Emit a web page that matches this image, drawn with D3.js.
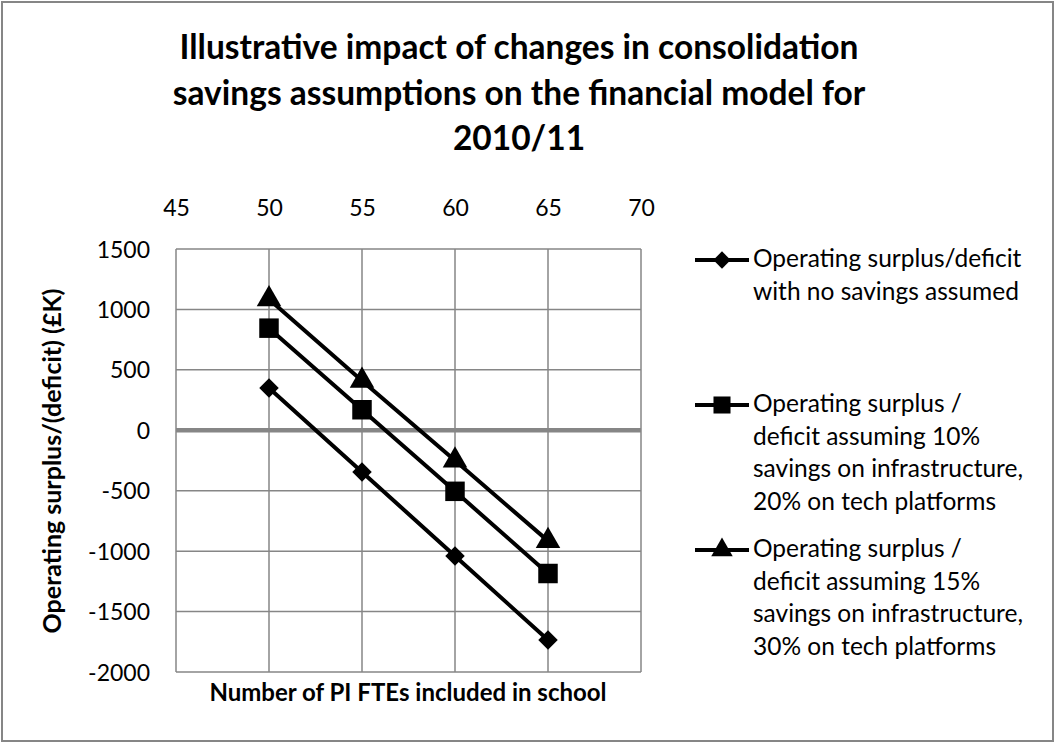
<!DOCTYPE html>
<html>
<head>
<meta charset="utf-8">
<script src="https://cdn.jsdelivr.net/npm/d3@7"></script>
<style>
  body { margin: 0; background: #fff; }
  text { font-family: Lato, "Open Sans", sans-serif; fill: #000; }
</style>
</head>
<body>
<script>
/* Data */
const fteCounts = [50, 55, 60, 65];
const noSavings = [350, -345, -1040, -1735];
const savings10 = [845, 170, -505, -1185];
const savings15 = [1085, 410, -250, -915];
const xTicks = [45, 50, 55, 60, 65, 70];
const yTicks = [1500, 1000, 500, 0, -500, -1000, -1500, -2000];
const titleLines = ["Illustrative impact of changes in consolidation",
  "savings assumptions on the financial model for", "2010/11"];
const seriesNames = [
  ["Operating surplus/deficit", "with no savings assumed"],
  ["Operating surplus /", "deficit assuming 10%", "savings on infrastructure,", "20% on tech platforms"],
  ["Operating surplus /", "deficit assuming 15%", "savings on infrastructure,", "30% on tech platforms"]
];

/* Main */
let main = () => {
  const w = 1056, h = 742;
  const plot = { left: 176, right: 641, top: 249, bottom: 672 };

  const svg = d3.select("body").append("svg")
    .attr("width", w)
    .attr("height", h);

  // outer border
  svg.append("rect")
    .attr("x", 2).attr("y", 2)
    .attr("width", 1051).attr("height", 739)
    .attr("fill", "#fff")
    .attr("stroke", "#868686")
    .attr("stroke-width", 2);

  /* Title */
  svg.append("g").selectAll("text")
    .data(titleLines)
    .enter().append("text")
    .attr("x", 519)
    .attr("y", (d, i) => 59 + i * 45.5)
    .attr("text-anchor", "middle")
    .attr("font-size", 33.5)
    .attr("font-weight", "bold")
    .text(d => d);

  /* Scales */
  const xScale = d3.scaleLinear().domain([45, 70]).range([plot.left, plot.right]);
  const yScale = d3.scaleLinear().domain([-2000, 1500]).range([plot.bottom, plot.top]);

  /* Grid */
  const grid = svg.append("g");
  grid.selectAll("line.v")
    .data(xTicks)
    .enter().append("line")
    .attr("x1", d => xScale(d)).attr("x2", d => xScale(d))
    .attr("y1", plot.top).attr("y2", plot.bottom)
    .attr("stroke", "#868686").attr("stroke-width", 1.5);
  grid.selectAll("line.h")
    .data(yTicks.filter(d => d !== 0))
    .enter().append("line")
    .attr("x1", plot.left).attr("x2", plot.right)
    .attr("y1", d => yScale(d)).attr("y2", d => yScale(d))
    .attr("stroke", "#868686").attr("stroke-width", 1.5);

  // zero axis line, thick
  svg.append("line")
    .attr("x1", plot.left).attr("x2", plot.right)
    .attr("y1", yScale(0)).attr("y2", yScale(0))
    .attr("stroke", "#868686").attr("stroke-width", 4.5);

  /* Axes */
  const xAxis = d3.axisTop(xScale).tickValues(xTicks).tickSize(0).tickPadding(0)
    .tickFormat(d => String(d));
  const yAxis = d3.axisLeft(yScale).tickValues(yTicks).tickSize(0).tickPadding(0)
    .tickFormat(d => String(d));

  const gx = svg.append("g")
    .attr("transform", "translate(0," + 216 + ")")
    .call(xAxis);
  gx.select(".domain").remove();
  gx.selectAll("text").attr("font-size", 23).attr("font-family", "Lato").attr("dy", 0);

  const gy = svg.append("g")
    .attr("transform", "translate(" + 150 + ",0)")
    .call(yAxis);
  gy.select(".domain").remove();
  gy.selectAll("text").attr("font-size", 23).attr("font-family", "Lato").attr("dy", "0.35em");

  /* Axis titles */
  svg.append("text")
    .attr("x", 408)
    .attr("y", 701)
    .attr("text-anchor", "middle")
    .attr("font-size", 24)
    .attr("font-weight", "bold")
    .text("Number of PI FTEs included in school");

  svg.append("text")
    .attr("transform", "translate(61," + 461 + ") rotate(-90)")
    .attr("text-anchor", "middle")
    .attr("font-size", 25)
    .attr("font-weight", "bold")
    .text("Operating surplus/(deficit) (£K)");

  /* Series */
  const diamond = {
    draw(ctx, size) {
      const r = Math.sqrt(size / 2);
      ctx.moveTo(0, -r); ctx.lineTo(r, 0); ctx.lineTo(0, r); ctx.lineTo(-r, 0); ctx.closePath();
    }
  };
  const series = [
    { values: noSavings, symbol: diamond, size: 190, legendSize: 150 },
    { values: savings10, symbol: d3.symbolSquare, size: 380, legendSize: 290 },
    { values: savings15, symbol: d3.symbolTriangle, size: 260, legendSize: 200 }
  ];

  const line = d3.line()
    .x((d, i) => xScale(fteCounts[i]))
    .y(d => yScale(d));

  series.forEach(s => {
    svg.append("path")
      .datum(s.values)
      .attr("d", line)
      .attr("fill", "none")
      .attr("stroke", "#000")
      .attr("stroke-width", 4);

    svg.selectAll(null)
      .data(s.values)
      .enter().append("path")
      .attr("d", d3.symbol().type(s.symbol).size(s.size))
      .attr("transform", (d, i) => "translate(" + xScale(fteCounts[i]) + "," + yScale(d) + ")")
      .attr("fill", "#000");
  });

  /* Legend */
  const legendBase = [267, 412, 557];
  const legend = svg.append("g");
  seriesNames.forEach((lines, k) => {
    const y0 = legendBase[k];
    legend.append("line")
      .attr("x1", 695).attr("x2", 749)
      .attr("y1", y0 - 7).attr("y2", y0 - 7)
      .attr("stroke", "#000").attr("stroke-width", 4);
    legend.append("path")
      .attr("d", d3.symbol().type(series[k].symbol).size(series[k].legendSize))
      .attr("transform", "translate(722," + (y0 - 7) + ")")
      .attr("fill", "#000");
    legend.selectAll(null)
      .data(lines)
      .enter().append("text")
      .attr("x", 753)
      .attr("y", (d, i) => y0 + i * 32.5)
      .attr("font-size", 24.5)
      .text(d => d);
  });
}

main();
</script>
</body>
</html>
